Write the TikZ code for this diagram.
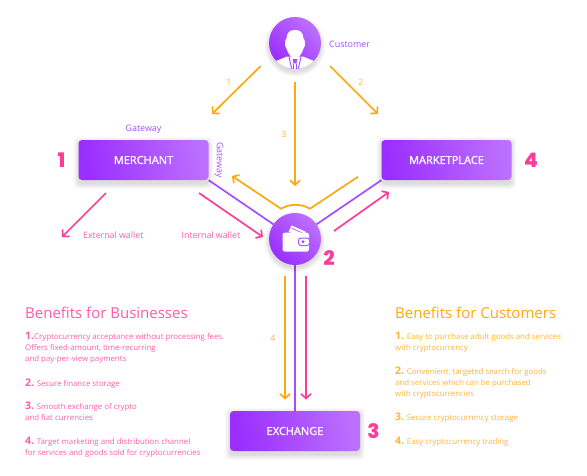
\documentclass[tikz,border=0pt]{standalone}
\usepackage{fontspec}
\setmainfont{Open Sans}
\newfontfamily\heavyfont{Poppins}[UprightFont=* ExtraBold]
\newfontfamily\semifont{Open Sans}[FakeBold=1.3]
\usetikzlibrary{backgrounds,arrows.meta}
\definecolor{vio}{HTML}{A64DFF}
\definecolor{vioA}{HTML}{9A2EFF}
\definecolor{vioB}{HTML}{BC70FF}
\definecolor{org}{HTML}{FFA70F}
\definecolor{pnk}{HTML}{FF3D98}
\definecolor{pnklt}{HTML}{FF5CA8}
\definecolor{orglt}{HTML}{FFB435}
\tikzset{
 flow/.style={line width=1.7pt,-{Straight Barb[length=4.5pt,width=10pt,line width=1.7pt]}},
 orangeflow/.style={flow,draw=org},
 pinkflow/.style={flow,draw=pnk},
 link/.style={draw=vio,line width=1.7pt},
 boxnode/.style={rectangle,rounded corners=3.5pt,minimum width=130pt,minimum height=40pt,inner sep=0pt,
   left color=vioA,right color=vioB,shading angle=100,text=white,font=\fontsize{11}{12}\selectfont\semifont},
 disc/.style={circle,minimum size=52pt,inner sep=0pt,shading=axis,left color=vioA,right color=vioB,shading angle=135},
 violabel/.style={text=vio,font=\fontsize{8.9}{10}\selectfont,inner sep=0pt},
 pinklabel/.style={text=pnklt,font=\fontsize{8.8}{10}\selectfont,inner sep=0pt},
 orangelabel/.style={text=orglt,font=\fontsize{8.8}{10}\selectfont,inner sep=0pt},
 bignum/.style={text=pnk,font=\fontsize{20}{22}\selectfont\heavyfont,inner sep=0pt},
 bizhead/.style={text=pnk!85!white,font=\fontsize{15}{18}\selectfont,inner sep=0pt,anchor=base west},
 cushead/.style={text=org,font=\fontsize{15}{18}\selectfont,inner sep=0pt,anchor=base west},
 bizbody/.style={text=pnklt,font=\fontsize{7.85}{11}\selectfont,inner sep=0pt,anchor=north west,align=left},
 cusbody/.style={text=orglt,font=\fontsize{7.85}{11}\selectfont,inner sep=0pt,anchor=north west,align=left},
}
\newcommand{\lead}[1]{{\fontsize{10.5}{11}\selectfont\bfseries #1}}
\begin{document}
\begin{tikzpicture}[x=1pt,y=-1pt]
\useasboundingbox (0,0) rectangle (587,475);
% main nodes
\node[boxnode] (merchant) at (143.5,160) {MERCHANT};
\node[boxnode] (marketplace) at (446.5,160) {MARKETPLACE};
\node[boxnode] (exchange) at (295,431) {EXCHANGE};
\node[disc] (customer) at (295,43) {};
\node[disc] (wallet) at (295,239) {};
% customer silhouette
\begin{scope}
\clip (customer) circle (26pt);
\fill[white] (276,61) -- (287,56.5) -- (303,56.5) -- (314,61) -- (322,72) -- (268,72) -- cycle;
\draw[vio,line width=.9pt] (289,57) -- (292,70);
\draw[vio,line width=.9pt] (301,57) -- (298,70);
\fill[vio] (292.5,59) -- (297.5,59) -- (296.5,62.5) -- (297.5,70) -- (292.5,70) -- (293.5,62.5) -- cycle;
\fill[white] (294.3,63) -- (295.7,63) -- (296,70) -- (294,70) -- cycle;
\fill[white] (295,30) .. controls (289.5,30) and (287,32.5) .. (286.5,38.5) .. controls (284.6,39.5) and (284.4,47) .. (286.5,48.5) .. controls (287.8,53) and (291,58.5) .. (295,58.5) .. controls (299,58.5) and (302.2,53) .. (303.5,48.5) .. controls (305.6,47) and (305.4,39.5) .. (303.5,38.5) .. controls (303,32.5) and (300.5,30) .. (295,30) -- cycle;
\end{scope}
% wallet icon
\fill[white,rotate around={-24:(299,232)}] (289.5,229) rectangle (305,236);
\draw[vio,line width=.6pt,rotate around={-24:(299,232)}] (291,231.5) -- (304.5,231.5);
\fill[white,rounded corners=2.5pt] (282.5,232.5) rectangle (309,251.7);
\fill[vio,rounded corners=3pt] (298,237.5) rectangle (310,246);
\fill[white,rounded corners=2.5pt] (299,238.5) rectangle (309.2,245);
\fill[vio] (303,241.7) circle (1.6pt);
% labels
\node[violabel,anchor=base west] (customerlbl) at (329,47) {Customer};
\node[violabel] (gatewaytop) at (143.5,129) {Gateway};
\node[violabel,rotate=-90] (gatewayside) at (219,160) {Gateway};
\node[pinklabel,anchor=base west] (extlbl) at (83,238) {External wallet};
\node[pinklabel,anchor=base west] (intlbl) at (181.5,238) {Internal wallet};
\node[orangelabel] (n1) at (229,82) {1};
\node[orangelabel] (n2) at (361,82) {2};
\node[orangelabel] (n3) at (284,134) {3};
\node[orangelabel] (n4) at (273,338) {4};
\node[bignum] (b1) at (61.5,160) {1};
\node[bignum] (b2) at (329,258) {2};
\node[bignum] (b3) at (373.5,431.5) {3};
\node[bignum] (b4) at (531,160.5) {4};
% benefits
\node[bizhead] (bizh) at (25,318) {Benefits for Businesses};
\node[bizbody] (biz1) at (25,331.5) {\lead{1.}Cryptocurrency acceptance without processing fees.\\Offers fixed-amount, time-recurring\\and pay-per-view payments};
\node[bizbody] (biz2) at (25,378.5) {\lead{2.} Secure finance storage};
\node[bizbody] (biz3) at (25,401.5) {\lead{3.} Smooth exchange of crypto\\and fiat currencies};
\node[bizbody] (biz4) at (25,436.5) {\lead{4.} Target marketing and distribution channel\\for services and goods sold for cryptocurrencies};
\node[cushead] (cush) at (395,318) {Benefits for Customers};
\node[cusbody] (cus1) at (395,331.5) {\lead{1.} Easy to purchase adult goods and services\\with cryptocurrency};
\node[cusbody] (cus2) at (395,366.5) {\lead{2.} Convenient, targeted search for goods\\and services which can be purchased\\with cryptocurrencies};
\node[cusbody] (cus3) at (395,412.5) {\lead{3.} Secure cryptocurrency storage};
\node[cusbody] (cus4) at (395,436.5) {\lead{4.} Easy cryptocurrency trading};
% free ends of flows
\coordinate (c1s) at (260.7,66); \coordinate (c1e) at (212,114);
\coordinate (c2s) at (330,66); \coordinate (c2e) at (378,114);
\coordinate (c3s) at (295,82); \coordinate (c3e) at (295,186);
\coordinate (oL) at (232,176); \coordinate (oLm) at (281,208.7);
\coordinate (oRm) at (310,208.7); \coordinate (oR) at (358,176.7);
\coordinate (p1s) at (106,193); \coordinate (p1e) at (62,237);
\coordinate (p2s) at (199,193); \coordinate (p2e) at (263,237);
\coordinate (p3s) at (334,231); \coordinate (p3e) at (389,192);
\coordinate (o4s) at (285,276); \coordinate (o4e) at (285,399.5);
\coordinate (p4s) at (306,276); \coordinate (p4e) at (306,399.5);
\draw[orangeflow] (c1s) -- (c1e);
\draw[orangeflow] (c2s) -- (c2e);
\draw[orangeflow] (c3s) -- (c3e);
\draw[orangeflow] (oR) -- (oRm) .. controls (301,203.5) and (290,203.5) .. (oLm) -- (oL);
\draw[orangeflow] (o4s) -- (o4e);
\draw[pinkflow] (p1s) -- (p1e);
\draw[pinkflow] (p2s) -- (p2e);
\draw[pinkflow] (p3s) -- (p3e);
\draw[pinkflow] (p4s) -- (p4e);
\begin{pgfonlayer}{background}
\draw[link] (merchant.south east) -- (wallet);
\draw[link] (marketplace.south west) -- (wallet);
\draw[link] (wallet) -- (exchange);
\foreach \n in {merchant,marketplace,exchange}
 \foreach \g in {1,2,...,7}
  \fill[black,opacity=.018,rounded corners=4pt] ([xshift=-\g*.8pt+1pt,yshift=-3pt-\g*.8pt]\n.south west) rectangle ([xshift=\g*.8pt-1pt,yshift=-3pt+\g*.8pt]\n.north east);
\foreach \n in {customer,wallet}
 \foreach \g in {1,2,...,7}
  \fill[black,opacity=.018] ([yshift=-3pt]\n.center) circle ({25pt+\g*.8pt});
\end{pgfonlayer}
\end{tikzpicture}
\end{document}
